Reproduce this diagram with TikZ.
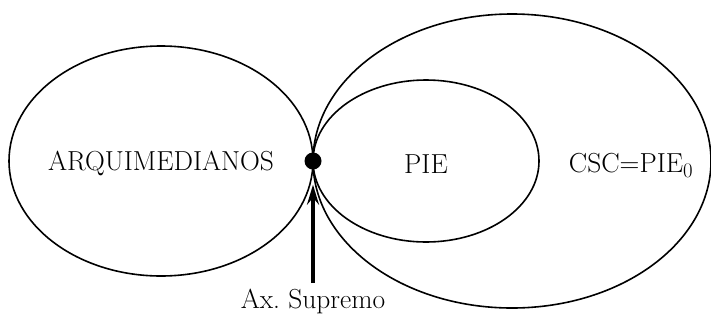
\documentclass[tikz,border=0pt]{standalone}
\usepackage{fontspec}
\usepackage{tikz}
\usetikzlibrary{positioning, arrows.meta, calc}

\begin{document}
\begin{tikzpicture}[x=1pt, y=-1pt,
      e/.style={draw=black, line width=1.6pt},
      t/.style={font=\fontsize{27.5}{32}\selectfont, inner sep=0pt}]
    \useasboundingbox (0,0) rectangle (711,322);
    \draw[e] (161,161) ellipse [x radius=152, y radius=115];
    \draw[e] (512,161) ellipse [x radius=199, y radius=147];
    \draw[e] (426,161) ellipse [x radius=113, y radius=81];
    \node[t] (arq) at (161,163) {ARQUIMEDIANOS};
    \node[t] (pie) at (426,164) {PIE};
    \node[t] (csc) at (631,165) {CSC=PIE$_0$};
    \node[circle, fill=black, minimum size=17pt, inner sep=0pt] (p) at (313,161) {};
    \node[t, anchor=north] (sup) at (313,289) {Ax.\ Supremo};
    \draw[-{Stealth[length=20pt, width=12pt, inset=7pt]}, line width=4pt, shorten >=15pt, shorten <=6pt] (sup) -- (p);
  \end{tikzpicture}
\end{document}
